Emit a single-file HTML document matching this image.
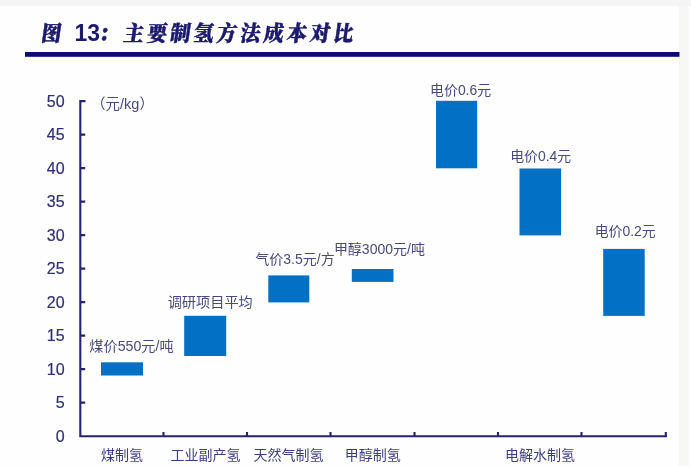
<!DOCTYPE html>
<html lang="zh">
<head>
<meta charset="utf-8">
<title>图 13：主要制氢方法成本对比</title>
<style>
html,body{margin:0;padding:0;background:#fefefe;}
body{width:691px;height:466px;overflow:hidden;position:relative;}
svg{position:absolute;left:0;top:0;display:block;}
.title{font-family:"Liberation Serif","Noto Serif CJK SC",serif;font-weight:900;font-size:20px;letter-spacing:3.3px;fill:#1c1a6b;stroke:#1c1a6b;stroke-width:0.5px;}
.num{font-family:"Liberation Sans","Noto Sans CJK SC",sans-serif;font-weight:bold;font-style:normal;font-size:23px;fill:#1c1a6b;}
.yt{font-family:"Liberation Sans","Noto Sans CJK SC",sans-serif;font-size:16px;fill:#2e3070;stroke:#2e3070;stroke-width:0.2px;text-anchor:end;}
.lab{font-family:"Liberation Sans","Noto Sans CJK SC",sans-serif;font-size:14px;fill:#484a7c;text-anchor:middle;}
.cat{font-family:"Liberation Sans","Noto Sans CJK SC",sans-serif;font-size:14px;fill:#3b3e7c;text-anchor:middle;}
</style>
</head>
<body>
<svg width="691" height="466" viewBox="0 0 691 466">
  <rect x="0" y="0" width="691" height="466" fill="#fefefe"/>
  <rect x="0" y="0" width="691" height="6" fill="#f4f5f4"/>
  <rect x="679" y="6" width="9.500" height="460" fill="#f7f8f6"/>
  <!-- title -->
  <g transform="translate(0,41.300) skewX(-8) scale(1,1.08)">
    <text x="40.500" y="0" class="title">图</text>
    <text x="98" y="0" class="title">：</text>
    <text x="123" y="0" class="title">主要制氢方法成本对比</text>
  </g>
  <text x="74.500" y="41" class="num">13</text>
  <rect x="25" y="52" width="654.500" height="4.800" fill="#0d0b70"/>
  <!-- bars -->
  <g fill="#0270c4">
    <rect x="101" y="362.300" width="42" height="13.200"/>
    <rect x="184.200" y="315.800" width="42" height="40.200"/>
    <rect x="268.300" y="275.400" width="41" height="27"/>
    <rect x="351.800" y="269" width="41.700" height="12.900"/>
    <rect x="436" y="100.800" width="41.200" height="67.500"/>
    <rect x="519.500" y="168.500" width="41.600" height="66.900"/>
    <rect x="603.200" y="248.900" width="41.500" height="67"/>
  </g>
  <!-- axes -->
  <g stroke="#24246a" stroke-width="2.100" fill="none">
    <path d="M80.300 100.050V436.300H667"/>
    <path d="M80 101.1h5.500M80 134.6h5.200M80 168.1h5.200M80 201.6h5.200M80 235.1h5.200M80 268.6h5.200M80 302.1h5.200M80 335.6h5.200M80 369.1h5.200M80 402.6h5.200"/>
    <path d="M163.500 436.300v-4.200M247 436.300v-4.200M330.500 436.300v-4.200M414.500 436.300v-4.200M498 436.300v-4.200M581.500 436.300v-4.200M665.800 436.300v-4.200"/>
  </g>
  <!-- y ticks -->
  <text class="yt" x="64.600" y="106.7">50</text>
  <text class="yt" x="64.600" y="140.2">45</text>
  <text class="yt" x="64.600" y="173.7">40</text>
  <text class="yt" x="64.600" y="207.2">35</text>
  <text class="yt" x="64.600" y="240.7">30</text>
  <text class="yt" x="64.600" y="274.2">25</text>
  <text class="yt" x="64.600" y="307.7">20</text>
  <text class="yt" x="64.600" y="341.2">15</text>
  <text class="yt" x="64.600" y="374.7">10</text>
  <text class="yt" x="64.600" y="408.2">5</text>
  <text class="yt" x="64.600" y="441.7">0</text>
  <text class="lab" x="122.500" y="109.200" style="font-size:14.500px">（元/kg）</text>
  <!-- data labels -->
  <text class="lab" x="131.500" y="350.500" style="font-size:14.200px">煤价550元/吨</text>
  <text class="lab" x="210.200" y="306.500" style="font-size:14.200px">调研项目平均</text>
  <text class="lab" x="295" y="264.300">气价3.5元/方</text>
  <text class="lab" x="379.400" y="254">甲醇3000元/吨</text>
  <text class="lab" x="460.600" y="95" style="font-size:13.900px">电价0.6元</text>
  <text class="lab" x="540.700" y="161" style="font-size:13.900px">电价0.4元</text>
  <text class="lab" x="625.200" y="235.500" style="font-size:13.900px">电价0.2元</text>
  <!-- categories -->
  <text class="cat" x="122" y="460">煤制氢</text>
  <text class="cat" x="205.400" y="460">工业副产氢</text>
  <text class="cat" x="288.600" y="460">天然气制氢</text>
  <text class="cat" x="372.700" y="460">甲醇制氢</text>
  <text class="cat" x="540" y="460">电解水制氢</text>
</svg>
</body>
</html>
